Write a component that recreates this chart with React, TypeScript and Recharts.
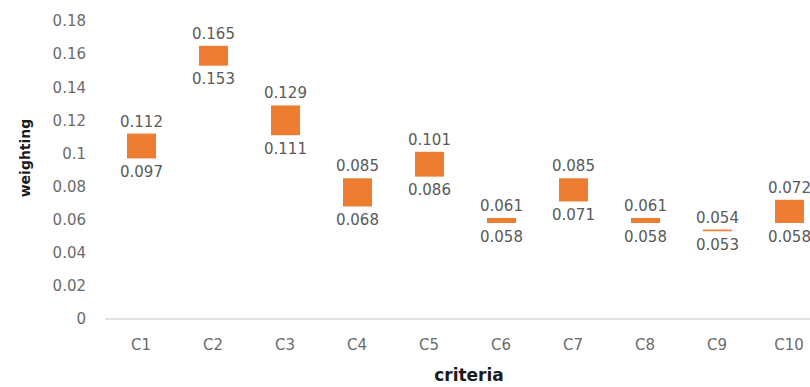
import { BarChart, Bar, XAxis, YAxis, LabelList, Label } from 'recharts'

// criteria weights: lower and upper bound per criterion
const criteria = ['C1', 'C2', 'C3', 'C4', 'C5', 'C6', 'C7', 'C8', 'C9', 'C10']
const lowWeights = [0.097, 0.153, 0.111, 0.068, 0.086, 0.058, 0.071, 0.058, 0.053, 0.058]
const highWeights = [0.112, 0.165, 0.129, 0.085, 0.101, 0.061, 0.085, 0.061, 0.054, 0.072]
const yTicks = [0, 0.02, 0.04, 0.06, 0.08, 0.1, 0.12, 0.14, 0.16, 0.18]

const data = criteria.map((name, i) => ({
    name,
    low: lowWeights[i],
    high: highWeights[i],
    range: [lowWeights[i], highWeights[i]],
}))

const font = 'DejaVu Sans'

const YTitle = ({ viewBox }: any) => (
    <text
        transform={`translate(${viewBox.x + 25},${viewBox.y + viewBox.height / 2 - 12}) rotate(-90)`}
        textAnchor="middle"
        dominantBaseline="central"
        fontFamily={font}
        fontWeight="bold"
        fontSize={14}
        fill="#1a1a1a"
    >
        weighting
    </text>
)

const XTitle = ({ viewBox }: any) => (
    <text
        x={viewBox.x + viewBox.width / 2 + 4}
        y={viewBox.y + 62}
        textAnchor="middle"
        fontFamily={font}
        fontWeight="bold"
        fontSize={17}
        fill="#1a1a1a"
    >
        criteria
    </text>
)

export default function App() {
    return (
        <div style={{ position: 'absolute', left: 0, top: 0, width: 810, height: 387, overflow: 'hidden', background: '#fff' }}>
            <BarChart width={840} height={387} data={data} margin={{ top: 21, right: 15, bottom: 0, left: 0 }}>
                <XAxis
                    dataKey="name"
                    height={68}
                    tickLine={false}
                    tickSize={0}
                    tickMargin={20}
                    axisLine={{ stroke: '#d9d9d9', strokeWidth: 1.5 }}
                    tick={{ fill: '#6b6b6b', fontSize: 15, fontFamily: font }}
                >
                    <Label content={<XTitle />} />
                </XAxis>
                <YAxis
                    width={105}
                    domain={[0, 0.18]}
                    ticks={yTicks}
                    interval={0}
                    axisLine={false}
                    tickLine={false}
                    tickSize={0}
                    tickMargin={19}
                    tick={{ fill: '#6b6b6b', fontSize: 15, fontFamily: font }}
                >
                    <Label content={<YTitle />} />
                </YAxis>
                <Bar dataKey="range" fill="#ed7d31" barSize={29} isAnimationActive={false}>
                    <LabelList dataKey="high" position="top" offset={7} fill="#5a5a5a" fontSize={15} fontFamily={font} />
                    <LabelList dataKey="low" position="bottom" offset={8} fill="#5a5a5a" fontSize={15} fontFamily={font} />
                </Bar>
            </BarChart>
        </div>
    )
}
